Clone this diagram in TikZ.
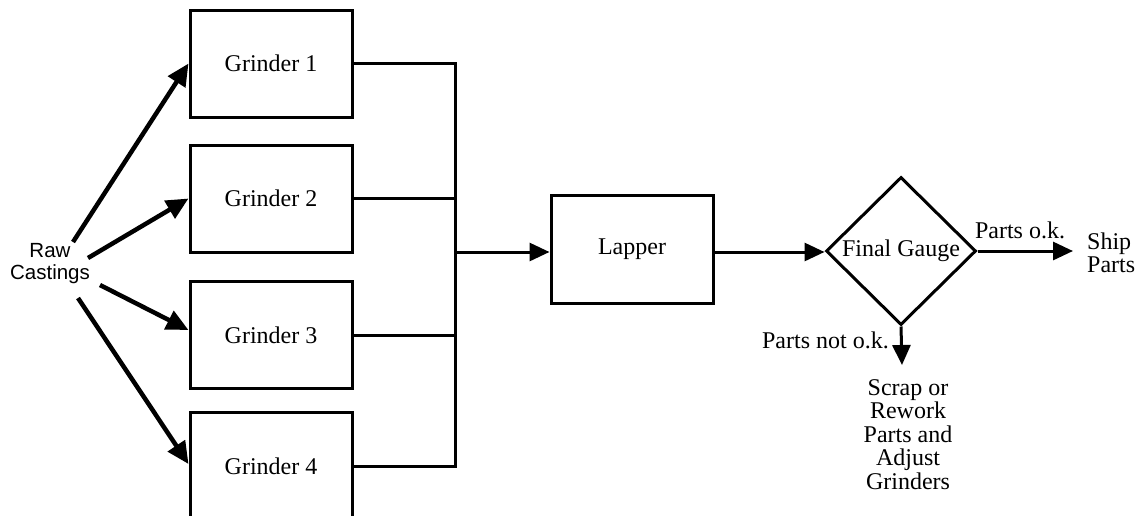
\documentclass[tikz,border=0pt]{standalone}
\usepackage{fontspec}
\setmainfont{Liberation Serif}
\setsansfont{Liberation Sans}
\usetikzlibrary{arrows.meta,shapes.geometric}
\begin{document}
\begin{tikzpicture}[x=1pt,y=-1pt,
  every node/.style={font=\fontsize{24}{23.5}\selectfont},
  box/.style={draw,line width=3pt,minimum width=162pt,minimum height=107pt,inner sep=0pt},
  conn/.style={line width=3pt},
  arr/.style={line width=3pt,-{Triangle[length=20pt,width=18pt]}},
  thick arr/.style={line width=4.5pt,-{Triangle[length=22pt,width=20pt]}},
  lbl/.style={inner sep=0pt,align=center}]
\clip (0,0) rectangle (1139,515);
\useasboundingbox (0,0) rectangle (1139,515);
\node[box] (g1) at (271,63.5) {Grinder 1};
\node[box] (g2) at (271,198.5) {Grinder 2};
\node[box] (g3) at (271,335) {Grinder 3};
\node[box] (g4) at (271,466) {Grinder 4};
\node[box,minimum height=108pt] (lap) at (632,249) {Lapper};
\node[draw,diamond,line width=3pt,minimum width=150pt,minimum height=148pt,aspect=1.01,inner sep=0pt] (gauge) at (901,251) {Final Gauge};
\node[lbl,font=\sffamily\fontsize{20.5}{22}\selectfont] (raw) at (50,264) {Raw\\Castings};
\node[lbl,align=left,anchor=west] (ship) at (1087,253) {Ship\\Parts};
\node[lbl,align=center] (scrap) at (908,434.5) {Scrap or\\Rework\\Parts and\\Adjust\\Grinders};
\node[lbl] (ok) at (1020,230) {Parts o.k.};
\node[lbl,anchor=east] (nok) at (889,340) {Parts not o.k.};
\coordinate (bus) at (455,252);
\coordinate (r1) at (73,242);
\coordinate (r2) at (88,258);
\coordinate (r3) at (100,285);
\coordinate (r4) at (78,298);
\coordinate (okend) at (1073,251);
\coordinate (nokend) at (902,365);
\draw[conn] (g1.east) -- (g1.east -| bus);
\draw[conn] (g2.east) -- (g2.east -| bus);
\draw[conn] (g3.east) -- (g3.east -| bus);
\draw[conn] (g4.east) -- (g4.east -| bus);
\draw[conn,line cap=rect] (g1.east -| bus) -- (g4.east -| bus);
\draw[arr] (bus) -- (bus -| lap.west);
\draw[arr] (lap.east |- bus) -- (bus -| gauge.west);
\draw[arr] (gauge.east) -- (okend);
\draw[arr] (gauge.south) -- (nokend);
\draw[thick arr] (r1) -- (g1.west);
\draw[thick arr] (r2) -- (g2.west);
\draw[thick arr] (r3) -- ([yshift=5pt]g3.west);
\draw[thick arr] (r4) -- ([yshift=2pt]g4.west);
\end{tikzpicture}
\end{document}
